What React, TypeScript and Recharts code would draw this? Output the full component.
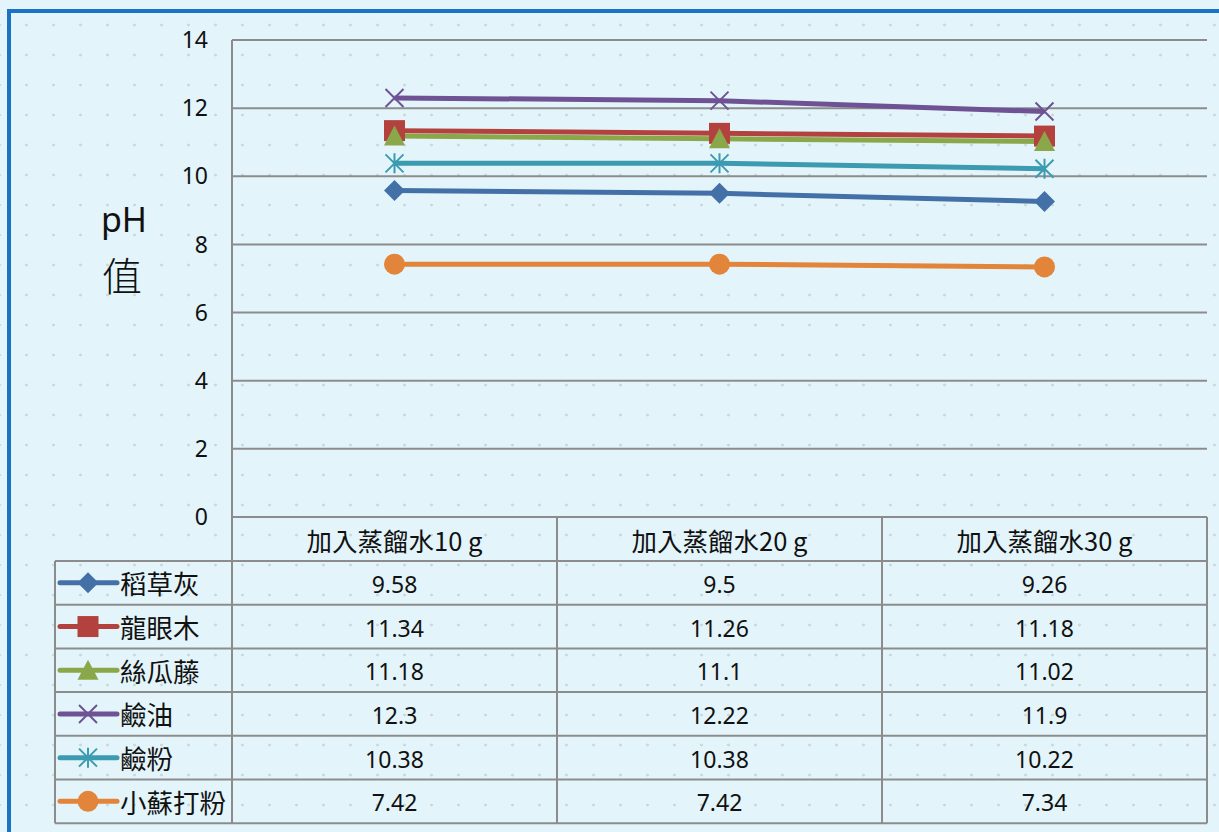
import React from "react";
import { LineChart, Line, XAxis, YAxis, CartesianGrid } from "recharts";

const categories = ["加入蒸餾水10 g", "加入蒸餾水20 g", "加入蒸餾水30 g"];
const seriesNames = ["稻草灰", "龍眼木", "絲瓜藤", "鹼油", "鹼粉", "小蘇打粉"];
const riceStrawAsh = [9.58, 9.5, 9.26];
const longanWood = [11.34, 11.26, 11.18];
const loofahVine = [11.18, 11.1, 11.02];
const alkaliOil = [12.3, 12.22, 11.9];
const alkaliPowder = [10.38, 10.38, 10.22];
const bakingSoda = [7.42, 7.42, 7.34];
const yTicks = [0, 2, 4, 6, 8, 10, 12, 14];

const seriesValues = [riceStrawAsh, longanWood, loofahVine, alkaliOil, alkaliPowder, bakingSoda];
const colors = ["#4470a8", "#b3423f", "#8aa84a", "#6f5294", "#3c9bb0", "#e2843a"];
const markers = ["diamond", "square", "triangle", "x", "star", "circle"];

const data = categories.map((c, i) => {
  const row: any = { cat: c };
  seriesValues.forEach((vals, s) => {
    row["s" + s] = vals[i];
  });
  return row;
});

const numFont = "'Noto Sans', sans-serif";
const cjkFont = "'Noto Sans CJK TC', 'Noto Sans', sans-serif";
const gridColor = "#8c8c8c";

function marker(kind: string, cx: number, cy: number, color: string, key?: string) {
  const r = 10.5;
  switch (kind) {
    case "diamond":
      return <path key={key} d={`M${cx},${cy - r}L${cx + r},${cy}L${cx},${cy + r}L${cx - r},${cy}Z`} fill={color} />;
    case "square":
      return <rect key={key} x={cx - r} y={cy - r} width={2 * r} height={2 * r} fill={color} />;
    case "triangle":
      return <path key={key} d={`M${cx},${cy - r}L${cx + r},${cy + r - 1}L${cx - r},${cy + r - 1}Z`} fill={color} />;
    case "x":
      return (
        <path key={key} d={`M${cx - 9},${cy - 9}L${cx + 9},${cy + 9}M${cx - 9},${cy + 9}L${cx + 9},${cy - 9}`} stroke={color} strokeWidth={2} />
      );
    case "star":
      return (
        <path
          key={key}
          d={`M${cx - 9},${cy - 9}L${cx + 9},${cy + 9}M${cx - 9},${cy + 9}L${cx + 9},${cy - 9}M${cx},${cy - 10}L${cx},${cy + 10}`}
          stroke={color}
          strokeWidth={2}
        />
      );
    default:
      return <circle key={key} cx={cx} cy={cy} r={r} fill={color} />;
  }
}

const makeDot = (s: number) => (props: any) => {
  const { cx, cy, index } = props;
  return marker(markers[s], cx, cy, colors[s], `dot-${s}-${index}`);
};

const HeaderTick = (props: any) => {
  const { x, y, payload } = props;
  return (
    <text x={x} y={y + 14} textAnchor="middle" dominantBaseline="central" fontFamily={cjkFont} fontSize={25.5} fill="#111">
      {payload.value}
    </text>
  );
};

const PhLabel = () => (
  <g>
    <text x={124} y={232} textAnchor="middle" fontFamily={numFont} fontSize={34} fill="#111">
      pH
    </text>
    <text x={122} y={291} textAnchor="middle" fontFamily={cjkFont} fontSize={40} fontWeight={300} fill="#111">
      值
    </text>
  </g>
);

// data table under the plot
const plotLeft = 232;
const colW = 325;
const tableLeft = 55;
const headerTop = 517;
const rowsTop = 561;
const rowH = 43.7;

function DataTable() {
  const right = plotLeft + colW * categories.length;
  const bottom = rowsTop + rowH * seriesNames.length;
  return (
    <svg width={1219} height={832} style={{ position: "absolute", left: 0, top: 0, pointerEvents: "none" }}>
      {[0, 1, 2, 3].map((i) => (
        <line key={"v" + i} x1={plotLeft + colW * i} x2={plotLeft + colW * i} y1={headerTop} y2={bottom} stroke={gridColor} strokeWidth={2} />
      ))}
      <line x1={tableLeft} x2={tableLeft} y1={rowsTop} y2={bottom} stroke={gridColor} strokeWidth={2} />
      {seriesNames.map((_, i) => (
        <line key={"h" + i} x1={tableLeft} x2={right} y1={rowsTop + rowH * i} y2={rowsTop + rowH * i} stroke={gridColor} strokeWidth={2} />
      ))}
      <line x1={tableLeft} x2={right} y1={bottom} y2={bottom} stroke={gridColor} strokeWidth={2} />
      {seriesNames.map((name, s) => {
        const cy = rowsTop + rowH * s + rowH / 2;
        return (
          <g key={"r" + s}>
            <line x1={60} x2={117} y1={cy} y2={cy} stroke={colors[s]} strokeWidth={5} strokeLinecap="round" />
            {marker(markers[s], 88, cy, colors[s])}
            <text x={120} y={cy} dominantBaseline="central" fontFamily={cjkFont} fontSize={26.5} fill="#111">
              {name}
            </text>
            {seriesValues[s].map((v, i) => (
              <text
                key={i}
                x={plotLeft + colW * i + colW / 2}
                y={cy + 1}
                textAnchor="middle"
                dominantBaseline="central"
                fontFamily={numFont}
                fontSize={23}
                fill="#111"
              >
                {v}
              </text>
            ))}
          </g>
        );
      })}
    </svg>
  );
}

export default function App() {
  return (
    <div
      style={{
        position: "absolute",
        left: 0,
        top: 0,
        width: 1219,
        height: 832,
        overflow: "hidden",
        backgroundColor: "#e3f5fa",
        backgroundImage: "radial-gradient(circle, #ccdade 1.2px, transparent 1.8px)",
        backgroundSize: "27px 30px",
        backgroundPosition: "13px 10px",
      }}
    >
      <div
        style={{
          position: "absolute",
          left: 7,
          top: 9,
          width: 1400,
          height: 1000,
          border: "4px solid #1a73c4",
          boxSizing: "border-box",
        }}
      />
      <LineChart
        width={1219}
        height={832}
        data={data}
        margin={{ top: 40, right: 12, bottom: 271, left: 172 }}
        style={{ position: "absolute", left: 0, top: 0 }}
      >
        <CartesianGrid vertical={false} stroke={gridColor} strokeWidth={2} />
        <XAxis
          dataKey="cat"
          scale="point"
          padding={{ left: colW / 2, right: colW / 2 }}
          axisLine={false}
          tickLine={false}
          height={44}
          tick={<HeaderTick />}
          interval={0}
        />
        <YAxis
          domain={[0, 14]}
          ticks={yTicks}
          width={60}
          axisLine={{ stroke: gridColor, strokeWidth: 2 }}
          tickLine={false}
          tickSize={0}
          tickMargin={24}
          tick={{ fontFamily: numFont, fontSize: 23, fill: "#111" }}
          label={<PhLabel />}
        />
        {seriesNames.map((name, s) => (
          <Line
            key={name}
            dataKey={"s" + s}
            name={name}
            stroke={colors[s]}
            strokeWidth={5}
            dot={makeDot(s)}
            activeDot={false}
            isAnimationActive={false}
          />
        ))}
      </LineChart>
      <DataTable />
    </div>
  );
}
